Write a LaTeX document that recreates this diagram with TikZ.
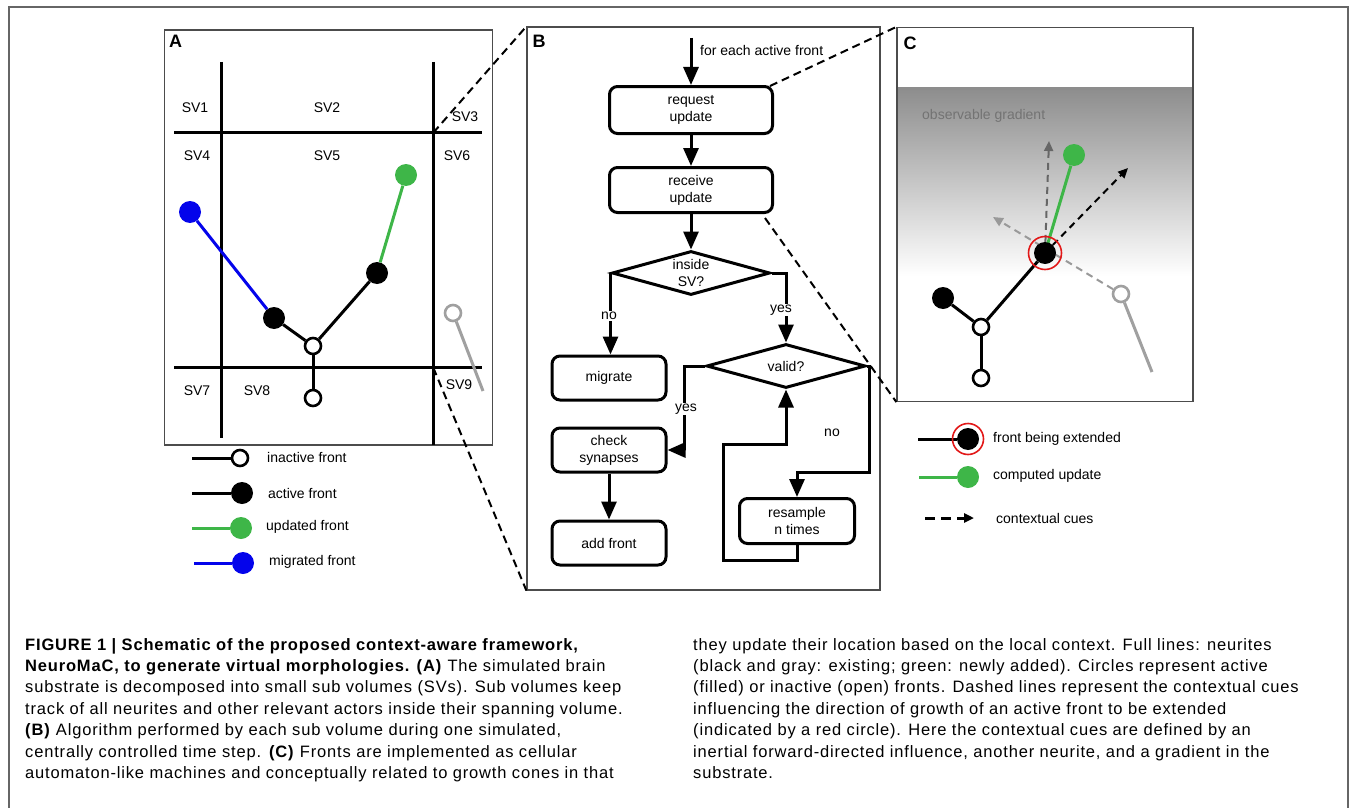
\documentclass[tikz,border=0pt]{standalone}
\usepackage{fontspec}
\setmainfont{Liberation Sans}
\newfontfamily\capfont[LetterSpace=5]{Liberation Sans}
\usepackage{tikz}
\usetikzlibrary{positioning,arrows.meta,shapes.geometric,backgrounds}
\definecolor{ngreen}{RGB}{62,182,72}
\definecolor{nblue}{RGB}{4,4,235}
\definecolor{ngray}{RGB}{160,160,160}
\definecolor{nred}{RGB}{226,24,24}

\begin{document}
\begin{tikzpicture}[x=1pt, y=-1pt, font=\fontsize{14}{17}\selectfont,
  panel/.style={draw=black!70, line width=1.2pt, inner sep=0pt},
  pantag/.style={font=\fontsize{18}{18}\selectfont\bfseries, anchor=north west, inner sep=0pt},
  gridln/.style={line width=3pt},
  fnode/.style={circle, inner sep=0pt, minimum size=22pt},
  act/.style={fnode, fill=black},
  upd/.style={fnode, fill=ngreen},
  mig/.style={fnode, fill=nblue},
  inact/.style={circle, draw, line width=2.6pt, fill=white, inner sep=0pt, minimum size=16pt},
  ring/.style={circle, draw=nred, line width=1.6pt, inner sep=0pt},
  neur/.style={line width=3pt},
  box/.style={draw, line width=3pt, rounded corners=8pt, align=center, inner sep=2pt},
  cond/.style={diamond, draw, line width=3pt, align=center, inner sep=0pt, shape aspect=3.4},
  flow/.style={line width=3pt, -{Triangle[width=15pt,length=18pt]}},
  brl/.style={fill=white, inner sep=1pt},
  zoomln/.style={line width=2pt, dash pattern=on 8pt off 5pt},
  cue/.style={line width=2pt, dash pattern=on 7pt off 5pt, -{Triangle[width=9pt,length=10pt]}},
  lbl/.style={anchor=west, inner sep=0pt},
  capt/.style={anchor=north west, align=left, inner sep=0pt, font=\capfont\fontsize{16.5}{21.4}\selectfont}]
\useasboundingbox (0,0) rectangle (1352,808);
\draw[black!60, line width=1.6pt] (9,830) -- (9,7) -- (1348,7) -- (1348,830);

% A: sub volumes
\node[panel, minimum width=328pt, minimum height=415pt] (panA) at (328.5,237.5) {};
\node[pantag] (tagA) at ([xshift=5pt,yshift=-6pt]panA.north west) {A};
\draw[gridln] (221.7,62) -- (221.7,438);
\draw[gridln] (433.3,62) -- (433.3,445);
\draw[gridln] (174,132.7) -- (481.7,132.7);
\draw[gridln] (174,367.7) -- (481.7,367.7);
\coordinate (xA1) at (433.3,132.7);
\coordinate (xA2) at (433.3,367.7);
\foreach \i/\x/\y in {1/195/108, 2/327/108, 3/465/117, 4/197/156, 5/327/156,
                      6/457/156, 7/197/391, 8/257/391, 9/459/385}
  \node (sv\i) at (\x,\y) {SV\i};

\node[mig] (a1) at (190,212) {};
\node[act] (a2) at (274,318) {};
\node[inact] (a3) at (313,346) {};
\node[act] (a4) at (377,273) {};
\node[upd] (a5) at (406,175) {};
\node[inact] (a6) at (313,398) {};
\node[inact, draw=ngray] (a7) at (453,313) {};
\coordinate (a8) at (483,391);
\draw[neur, nblue] (a1) -- (a2);
\draw[neur] (a2) -- (a3);
\draw[neur] (a3) -- (a4);
\draw[neur, ngreen] (a4) -- (a5);
\draw[neur] (a3) -- (a6);
\draw[neur, ngray] (a7) -- (a8);

% legend A
\coordinate (ka1) at (192,458); \node[inact] (kb1) at (240,458) {};
\draw[neur] (ka1) -- (kb1);
\node[lbl] (kt1) at (267,457) {inactive front};
\coordinate (ka2) at (192,493); \node[act] (kb2) at (242,493) {};
\draw[neur] (ka2) -- (kb2);
\node[lbl] (kt2) at (268,493) {active front};
\coordinate (ka3) at (192,528); \node[upd] (kb3) at (241,528) {};
\draw[neur, ngreen] (ka3) -- (kb3);
\node[lbl] (kt3) at (266,527) {updated front};
\coordinate (ka4) at (194,563); \node[mig] (kb4) at (243,563) {};
\draw[neur, nblue] (ka4) -- (kb4);
\node[lbl] (kt4) at (269,562) {migrated front};

% B: algorithm
\node[panel, minimum width=353pt, minimum height=563pt] (panB) at (703.5,308.5) {};
\node[pantag] (tagB) at ([xshift=6pt,yshift=-9pt]panB.north west) {B};
\coordinate (go) at (691,38);
\node[box, minimum width=163pt, minimum height=47pt] (req) at (691,110) {request\\update};
\node[box, minimum width=163pt, minimum height=45pt] (rec) at (691,190) {receive\\update};
\node[cond, minimum width=158pt, minimum height=44pt] (ins) at (691,273) {inside\\SV?};
\node[box, minimum width=114pt, minimum height=44pt] (migr) at (609,378) {migrate};
\node[cond, minimum width=159pt, minimum height=44pt] (val) at (786,366) {valid?};
\node[box, minimum width=114pt, minimum height=44pt] (chk) at (609,450) {check\\synapses};
\node[box, minimum width=114pt, minimum height=44pt] (addf) at (609,543) {add front};
\node[box, minimum width=115pt, minimum height=45pt] (res) at (797,521) {resample\\n times};

\draw[flow] (go) -- (req);
\node[lbl] (each) at (700,50) {for each active front};
\draw[flow] (req) -- (rec);
\draw[flow] (rec) -- (ins);
\draw[flow] (ins.west) -- (ins.west |- migr.north);
\node[brl] (no1) at (609,316) {no};
\draw[flow] (ins.east) -| (val.north);
\node[brl] (yes1) at (781,310) {yes};
\draw[flow] (val.west) -- ++(-21,0) |- (chk.east);
\node[brl] (yes2) at (686,409) {yes};
\draw[flow] (val.east) -- ++(2,0) |- ([yshift=25pt]res.north) -- (res.north);
\node (no2) at (832,433) {no};
\draw[flow] (res.south) -- ++(0,15) -| (723,444) -| (val.south);
\draw[flow] (chk) -- (addf);

% C: one front
\node[panel, minimum width=296pt, minimum height=374pt] (panC) at (1045,214.5) {};
\node[pantag] (tagC) at ([xshift=7pt,yshift=-10pt]panC.north west) {C};
\node[lbl, text=black!55] (grad) at (922,116) {observable gradient};
\node[act] (c1) at (1045,253) {};
\node[ring, minimum size=33pt] (c1r) at (1045,253) {};
\node[upd] (c2) at (1074,155) {};
\node[inact] (c3) at (981,327) {};
\node[act] (c4) at (943,298) {};
\node[inact] (c5) at (981,378) {};
\node[inact, draw=ngray] (c6) at (1121,294) {};
\coordinate (c7) at (1152,372);
\coordinate (cu1) at (1049,141);
\coordinate (cu2) at (1128,168);
\coordinate (cu3) at (993,217);
\begin{scope}[on background layer]
  \shade[top color=black!45, bottom color=white] (897,87) rectangle (1193,276);
  \draw[cue, black!60] (c1) -- (cu1);
  \draw[cue, black!40] (c6) -- (cu3);
  \draw[cue] (c1) -- (cu2);
  \draw[neur, ngreen] (c1.center) -- (c2);
  \draw[neur] (c1) -- (c3);
  \draw[neur] (c4) -- (c3);
  \draw[neur] (c3) -- (c5);
  \draw[neur, ngray] (c6) -- (c7);
\end{scope}

% legend C
\coordinate (kc1) at (918,439); \node[act] (kd1) at (968,439) {};
\draw[neur] (kc1) -- (kd1);
\node[ring, minimum size=31pt] (kr1) at (968,439) {};
\node[lbl] (ke1) at (993,439) {front being extended};
\coordinate (kc2) at (919,477); \node[upd] (kd2) at (968,477) {};
\draw[neur, ngreen] (kc2) -- (kd2);
\node[lbl] (ke2) at (993,476) {computed update};
\coordinate (kc3) at (925,518); \coordinate (kd3) at (974,518);
\draw[cue, line width=3pt, dash pattern=on 10pt off 6pt] (kc3) -- (kd3);
\node[lbl] (ke3) at (996,518) {contextual cues};

% zoom lines
\draw[zoomln] (xA1) -- (panB.north west);
\draw[zoomln] (xA2) -- (panB.south west);
\draw[zoomln] ([xshift=-4pt,yshift=-1pt]req.north east) -- (panC.north west);
\draw[zoomln] ([xshift=-9pt,yshift=-4pt]rec.south east) -- (panC.south west);

% caption
\node[capt] (capL) at (25,638) {\textbf{FIGURE 1 | Schematic of the proposed context-aware framework,}\\
\textbf{NeuroMaC, to generate virtual morphologies. (A)} The simulated brain\\
substrate is decomposed into small sub volumes (SVs). Sub volumes keep\\
track of all neurites and other relevant actors inside their spanning volume.\\
\textbf{(B)} Algorithm performed by each sub volume during one simulated,\\
centrally controlled time step. \textbf{(C)} Fronts are implemented as cellular\\
automaton-like machines and conceptually related to growth cones in that};
\node[capt] (capR) at (693,638) {they update their location based on the local context. Full lines: neurites\\
(black and gray: existing; green: newly added). Circles represent active\\
(filled) or inactive (open) fronts. Dashed lines represent the contextual cues\\
influencing the direction of growth of an active front to be extended\\
(indicated by a red circle). Here the contextual cues are defined by an\\
inertial forward-directed influence, another neurite, and a gradient in the\\
substrate.};
\end{tikzpicture}
\end{document}
